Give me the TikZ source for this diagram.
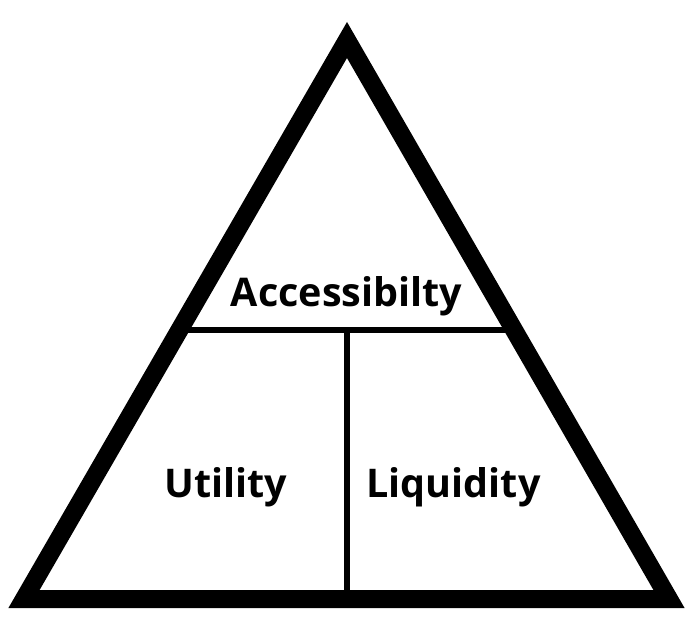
\documentclass[tikz,border=0pt]{standalone}
\usepackage{fontspec}
\setmainfont{Open Sans}
\usetikzlibrary{positioning, calc}

\tikzset{
	label text/.style={font=\fontsize{39.5}{46}\selectfont\bfseries, anchor=base, inner sep=0pt},
}

\begin{document}
\begin{tikzpicture}[x=1pt, y=-1pt]
		\useasboundingbox (0,0) rectangle (696,628);
		\coordinate (L) at (24,599);
		\coordinate (R) at (669,599);
		\coordinate (T) at (347,40);
		\draw[line width=18pt, line join=miter] (L) -- (R) -- (T) -- cycle;
		\coordinate (ML) at ($(L)!0.481!(T)$);
		\coordinate (MR) at ($(R)!0.481!(T)$);
		\coordinate (MB) at (347,590);
		\draw[line width=6pt] (ML) -- (MR);
		\draw[line width=6pt] (347,330) -- (MB);
		\node[label text] (acc) at (346.5,306) {Accessibilty};
		\node[label text] (uti) at (226,497) {Utility};
		\node[label text] (liq) at (453.5,497) {Liquidity};
	\end{tikzpicture}
\end{document}
